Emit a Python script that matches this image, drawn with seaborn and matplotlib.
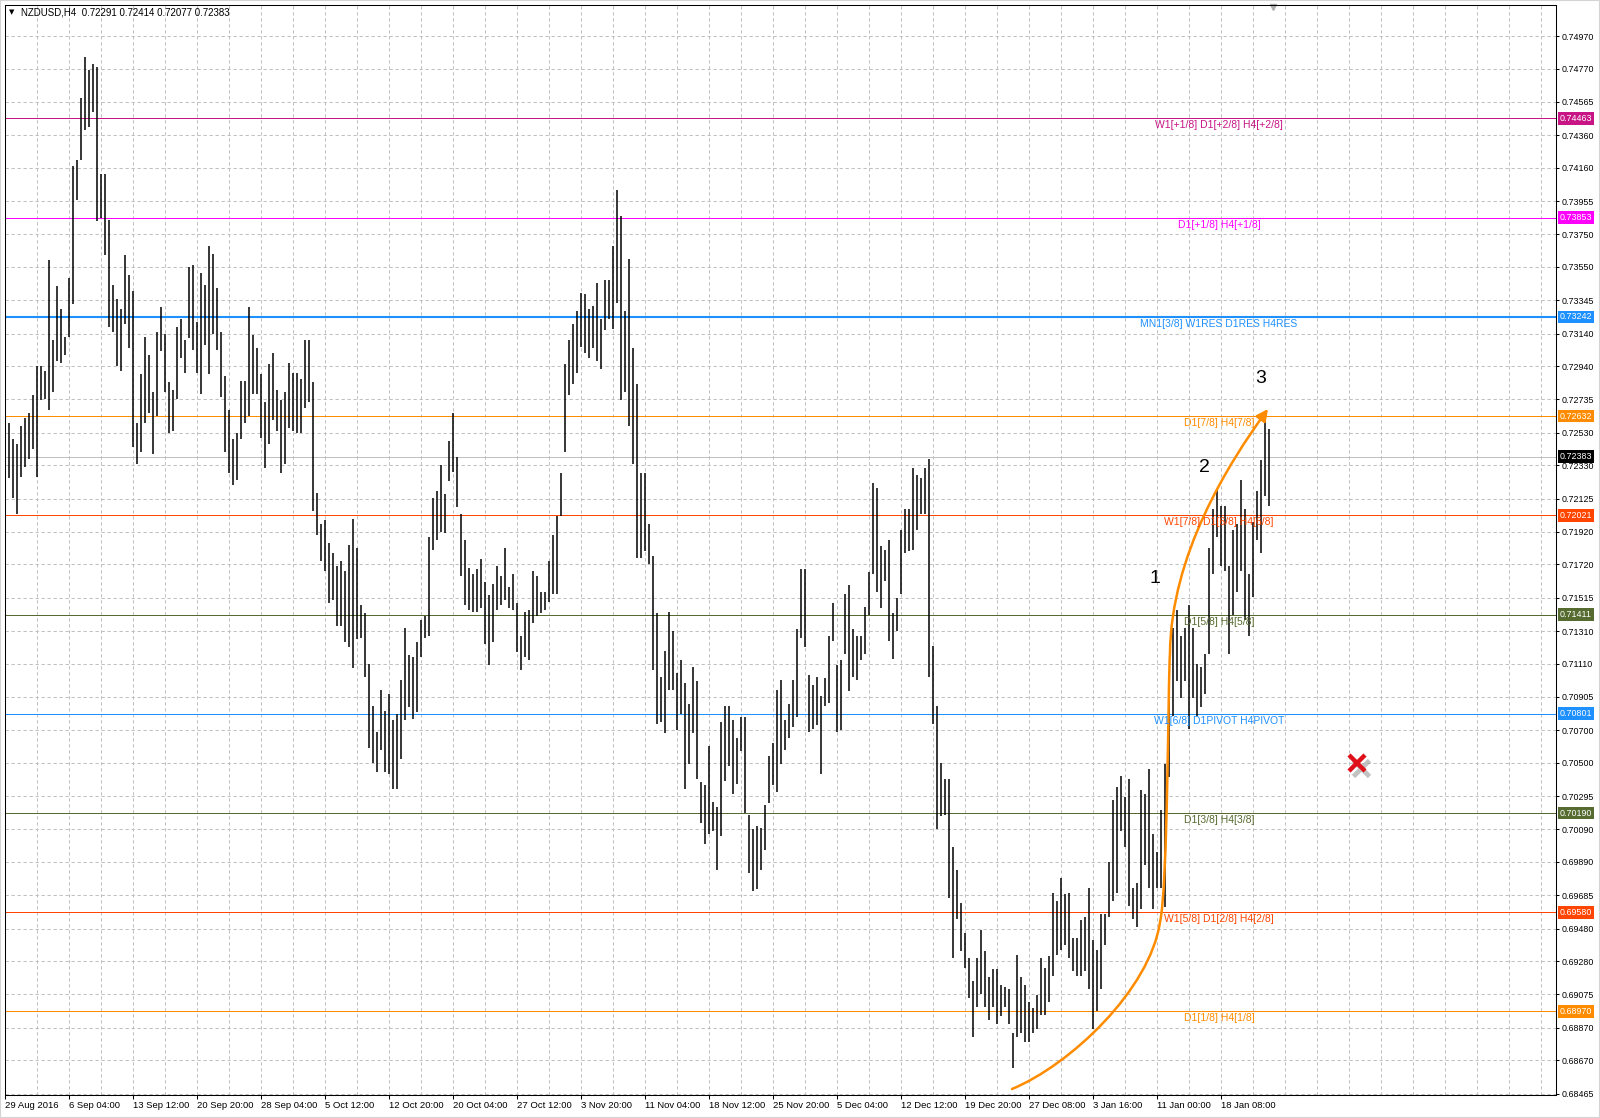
import numpy as np
import matplotlib
matplotlib.use("Agg")
import matplotlib.pyplot as plt
from matplotlib.ticker import FixedLocator
from matplotlib.transforms import offset_copy
from matplotlib.patches import Rectangle, FancyArrowPatch
from matplotlib.path import Path
import seaborn as sns

# NZDUSD H4, every entry = two 4h bars merged, price in 1/10000
bar_high = [
    7264, 7259, 7249, 7246, 7257, 7262, 7265, 7276, 7294, 7294,
    7291, 7359, 7310, 7343, 7329, 7312, 7348, 7417, 7421, 7459,
    7484, 7476, 7480, 7478, 7412, 7412, 7384, 7344, 7335, 7329,
    7362, 7350, 7340, 7259, 7289, 7312, 7301, 7278, 7315, 7330,
    7314, 7284, 7279, 7318, 7323, 7310, 7355, 7356, 7321, 7351,
    7344, 7368, 7363, 7342, 7315, 7288, 7267, 7249, 7253, 7285,
    7285, 7330, 7313, 7305, 7289, 7272, 7295, 7302, 7279, 7273,
    7278, 7296, 7290, 7290, 7286, 7310, 7310, 7284, 7216,
    7197, 7199, 7185, 7179, 7171, 7174, 7168, 7184, 7200, 7182,
    7147, 7142, 7111, 7085, 7069, 7095, 7082, 7092, 7076, 7080,
    7101, 7133, 7116, 7115, 7124, 7138, 7140, 7189, 7213, 7217,
    7233, 7215, 7248, 7265, 7238, 7203, 7187, 7170, 7166, 7169,
    7175, 7161, 7153, 7160, 7171, 7165, 7182, 7158, 7166, 7148,
    7128, 7143, 7144, 7168, 7165, 7155, 7155, 7174, 7190, 7202,
    7228, 7295, 7310, 7320, 7328, 7339, 7338, 7329, 7331, 7345,
    7323, 7347, 7347, 7368, 7402, 7386, 7328, 7360, 7305, 7283,
    7228, 7228,
    7197, 7177, 7142, 7103, 7119, 7143, 7131, 7105, 7113, 7099,
    7086, 7109, 7100, 7038, 7036, 7060, 7026, 7023, 7075, 7085,
    7085, 7076, 7065, 7078, 7078, 7018, 7009, 7011, 7010, 7024,
    7054, 7062, 7095, 7101, 7076, 7086, 7101, 7132, 7169, 7169,
    7104, 7098, 7103, 7091, 7102, 7128, 7148, 7110, 7113, 7154,
    7159, 7132, 7128, 7128, 7146, 7167, 7222, 7219, 7183, 7181,
    7187, 7142, 7151, 7193, 7206, 7206, 7231, 7227, 7225, 7231,
    7237, 7122, 7085, 7050, 7040, 7040,
    6998, 6984, 6964, 6945, 6930, 6916, 6930, 6947, 6934, 6918,
    6923, 6923, 6913, 6912, 6911, 6884, 6932, 6918, 6913, 6903,
    6899, 6907, 6930, 6924, 6931, 6970, 6965, 6979, 6969, 6970,
    6942, 6942, 6953, 6955, 6973, 6941, 6935, 6957, 6957, 6989,
    7027, 7035, 7042, 7029, 7040, 6973, 6976, 7033, 7031, 7046,
    7006, 6995, 7021, 7049, 7100, 7133, 7144, 7128, 7133, 7147,
    7133, 7111, 7109, 7117, 7182, 7206, 7218, 7208, 7208, 7171,
    7193, 7197, 7224, 7206, 7166, 7198, 7217, 7236, 7263, 7255,
]
bar_low = [
    7242, 7225, 7213, 7203, 7226, 7232, 7237, 7243, 7226, 7273,
    7274, 7267, 7278, 7297, 7296, 7301, 7312, 7332, 7396, 7421,
    7439, 7441, 7450, 7383, 7385, 7362, 7318, 7315, 7294, 7291,
    7320, 7305, 7244, 7234, 7241, 7259, 7265, 7240, 7263, 7303,
    7278, 7253, 7254, 7274, 7299, 7290, 7311, 7304, 7290, 7277,
    7307, 7289, 7314, 7304, 7275, 7241, 7228, 7221, 7224, 7249,
    7259, 7263, 7277, 7277, 7250, 7231, 7246, 7261, 7254, 7228,
    7234, 7256, 7254, 7253, 7253, 7268, 7272, 7205, 7190,
    7174, 7168, 7148, 7150, 7134, 7134, 7124, 7121, 7108, 7126,
    7127, 7103, 7059, 7050, 7044, 7058, 7044, 7043, 7034, 7034,
    7052, 7076, 7084, 7077, 7081, 7115, 7127, 7128, 7181, 7187,
    7192, 7191, 7223, 7229, 7207, 7165, 7147, 7144, 7143, 7143,
    7145, 7123, 7110, 7124, 7144, 7147, 7150, 7145, 7144, 7118,
    7107, 7115, 7113, 7136, 7140, 7142, 7144, 7149, 7154, 7154,
    7202, 7241, 7276, 7283, 7290, 7306, 7302, 7299, 7305, 7297,
    7292, 7316, 7323, 7317, 7333, 7273, 7278, 7257, 7234, 7176,
    7176, 7180,
    7172, 7107, 7074, 7075, 7068, 7095, 7095, 7070, 7080, 7034,
    7049, 7068, 7040, 7013, 7000, 7006, 7008, 6984, 7005, 7039,
    7048, 7031, 7037, 7057, 7019, 6982, 6971, 6972, 6984, 6996,
    7025, 7036, 7032, 7049, 7058, 7065, 7072, 7078, 7127, 7121,
    7069, 7071, 7073, 7043, 7085, 7087, 7125, 7069, 7070, 7117,
    7094, 7103, 7101, 7113, 7117, 7141, 7166, 7155, 7145, 7162,
    7125, 7114, 7131, 7154, 7179, 7180, 7181, 7193, 7203, 7203,
    7103, 7074, 7009, 7017, 7018, 6967,
    6930, 6954, 6934, 6924, 6905, 6881, 6900, 6908, 6900, 6892,
    6900, 6889, 6894, 6900, 6889, 6862, 6881, 6884, 6878, 6878,
    6884, 6886, 6895, 6895, 6903, 6919, 6932, 6935, 6938, 6930,
    6922, 6919, 6919, 6922, 6911, 6886, 6897, 6911, 6938, 6955,
    6965, 6970, 7008, 6998, 6962, 6954, 6949, 6960, 6987, 6973,
    6960, 6973, 6973, 6961, 7041, 7079, 7100, 7090, 7100, 7071,
    7090, 7079, 7084, 7092, 7117, 7166, 7189, 7171, 7168, 7117,
    7141, 7155, 7168, 7138, 7128, 7152, 7187, 7179, 7214, 7208,
]

date_labels = [
    "29 Aug 2016", "6 Sep 04:00", "13 Sep 12:00", "20 Sep 20:00", "28 Sep 04:00",
    "5 Oct 12:00", "12 Oct 20:00", "20 Oct 04:00", "27 Oct 12:00", "3 Nov 20:00",
    "11 Nov 04:00", "18 Nov 12:00", "25 Nov 20:00", "5 Dec 04:00", "12 Dec 12:00",
    "19 Dec 20:00", "27 Dec 08:00", "3 Jan 16:00", "11 Jan 00:00", "18 Jan 08:00",
]

price_ticks = [
    0.74970, 0.74770, 0.74565, 0.74360, 0.74160, 0.73955, 0.73750, 0.73550,
    0.73345, 0.73140, 0.72940, 0.72735, 0.72530, 0.72330, 0.72125, 0.71920,
    0.71720, 0.71515, 0.71310, 0.71110, 0.70905, 0.70700, 0.70500, 0.70295,
    0.70090, 0.69890, 0.69685, 0.69480, 0.69280, 0.69075, 0.68870, 0.68670,
    0.68465,
]

level_prices = [0.74463, 0.73853, 0.73242, 0.72632, 0.72021,
                0.71411, 0.70801, 0.70190, 0.69580, 0.68970]
level_names = [
    "W1[+1/8] D1[+2/8] H4[+2/8]",
    "D1[+1/8] H4[+1/8]",
    "MN1[3/8] W1RES D1RES H4RES",
    "D1[7/8] H4[7/8]",
    "W1[7/8] D1[6/8] H4[6/8]",
    "D1[5/8] H4[5/8]",
    "W1[6/8] D1PIVOT H4PIVOT",
    "D1[3/8] H4[3/8]",
    "W1[5/8] D1[2/8] H4[2/8]",
    "D1[1/8] H4[1/8]",
]
level_colors = ["#c71585", "#ff00ff", "#1e90ff", "#ff8c00", "#ff4500",
                "#556b2f", "#1e90ff", "#556b2f", "#ff4500", "#ff8c00"]
level_widths = [0.72, 0.72, 1.5, 0.72, 0.72, 0.72, 0.72, 0.72, 0.72, 0.72]

last_price = 0.72383
header = "NZDUSD,H4  0.72291 0.72414 0.72077 0.72383"

# hand drawn curve object: bezier anchors (bar index, price)
curve_pts = [
    (251.75, 0.684928), (266.25, 0.686404), (286.25, 0.691017), (288.75, 0.695200),
    (290.75, 0.697292), (290.75, 0.710209), (291.25, 0.711747),
    (291.50, 0.717775), (305.75, 0.723373), (315.75, 0.726756),
]

sns.set_theme(style="white")
plt.rcParams["font.family"] = ["Liberation Sans", "DejaVu Sans"]

fig = plt.figure(figsize=(16, 11.18), dpi=100, facecolor="white")
ax = fig.add_axes([4.5 / 1600, 23 / 1118, 1551.5 / 1600, 1090.5 / 1118])
ax.set_facecolor("white")
for sp in ax.spines.values():
    sp.set_color("black")
    sp.set_linewidth(0.75)

highs = np.array(bar_high) / 10000
lows = np.array(bar_low) / 10000
idx = np.arange(len(highs))

ax.set_xlim(-0.125, 387.75)
ax.set_ylim(0.684559, 0.751638)

# axes, ticks, grid
ax.set_xticks(np.arange(len(date_labels)) * 16)
ax.set_xticklabels(date_labels, ha="left")
ax.xaxis.set_minor_locator(FixedLocator(np.arange(8, 388, 8)))
ax.xaxis.remove_overlapping_locs = False
ax.set_yticks(price_ticks)
ax.set_yticklabels([f"{p:.5f}" for p in price_ticks])
ax.yaxis.tick_right()
grid_kw = dict(color="#c0c0c0", lw=0.72, ls=(0, (3.3, 2.7)))
ax.xaxis.grid(True, which="minor", **grid_kw)
ax.xaxis.grid(False, which="major")
ax.yaxis.grid(True, which="major", **grid_kw)
ax.set_axisbelow(True)
ax.tick_params(axis="x", which="major", bottom=True, length=3, width=0.75,
               pad=1.5, labelsize=6.8, color="black", labelcolor="black")
ax.tick_params(axis="x", which="minor", bottom=False, length=0)
ax.tick_params(axis="y", right=True, left=False, labelright=True, labelleft=False,
               length=2.5, width=0.75, pad=1.5, labelsize=6.4,
               color="black", labelcolor="black")

# level lines with names and price boxes
for price, name, color, width in zip(level_prices, level_names, level_colors, level_widths):
    ax.axhline(price, color=color, lw=width, zorder=1.5)
    ax.annotate(name, xy=(0.7828, price), xycoords=("axes fraction", "data"),
                xytext=(0, -2), textcoords="offset pixels", ha="center", va="top",
                fontsize=7.5, color=color, zorder=4)
    ax.annotate(f"{price:.5f}", xy=(1, price), xycoords=("axes fraction", "data"),
                xytext=(4, 0), textcoords="offset pixels", ha="left", va="center",
                fontsize=6.4, color="white", annotation_clip=False, zorder=5,
                bbox=dict(boxstyle="square,pad=0.2", fc=color, ec="none"))

ax.axhline(last_price, color="#c0c0c0", lw=0.72, zorder=1.5)
ax.annotate(f"{last_price:.5f}", xy=(1, last_price), xycoords=("axes fraction", "data"),
            xytext=(4, 0), textcoords="offset pixels", ha="left", va="center",
            fontsize=6.4, color="white", annotation_clip=False, zorder=5,
            bbox=dict(boxstyle="square,pad=0.2", fc="black", ec="none"))

# bars
ax.vlines(idx, lows, highs, colors="black", lw=1.1, zorder=2)

# orange curve with arrow head
codes = [Path.MOVETO] + [Path.CURVE4] * 9
arrow = FancyArrowPatch(path=Path(curve_pts, codes),
                        arrowstyle="-|>,head_length=0.7,head_width=0.35",
                        mutation_scale=10, color="#ff8c00", lw=1.8, zorder=3)
ax.add_patch(arrow)

for txt, xi, yp in [("1", 287.4, 0.716053), ("2", 299.75, 0.722881), ("3", 313.9, 0.728355)]:
    ax.text(xi, yp, txt, fontsize=14, ha="center", va="baseline", color="black", zorder=4)

# red cross object with shadow
shadow = offset_copy(ax.transData, fig=fig, x=4, y=-5, units="dots")
ax.plot([338], [0.70498], marker="x", ms=12, mew=3.4, color="#909090", alpha=0.55,
        transform=shadow, zorder=3)
ax.plot([338], [0.70498], marker="x", ms=12, mew=3.2, color="#e0101a", zorder=3.1)

# header
ax.text(0.0029, 0.9927, "\u25bc", transform=ax.transAxes, fontsize=5,
        va="center", ha="left", family="DejaVu Sans", color="black")
ax.text(0.0104, 0.9927, header, transform=ax.transAxes, fontsize=7,
        va="center", ha="left", color="black")
ax.plot([0.8176], [0.998], marker="v", ms=5, color="#b0b0b0",
        transform=ax.transAxes, clip_on=False)

fig.patches.append(Rectangle((0, 0), 1, 1, transform=fig.transFigure, fill=False,
                             ec="#d4d4d4", lw=1.5))

fig.savefig("out.png", dpi=100)
